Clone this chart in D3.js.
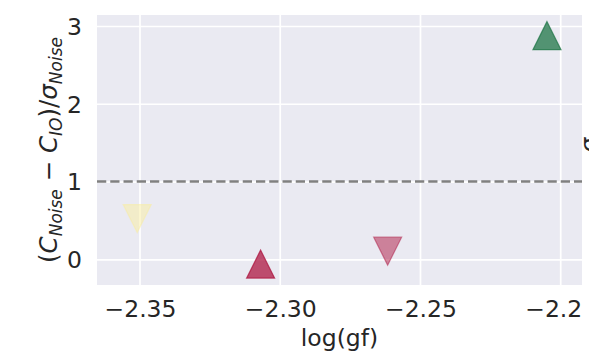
<!DOCTYPE html>
<html>
<head>
<meta charset="utf-8">
<script src="https://cdn.jsdelivr.net/npm/d3@7"></script>
<style>
  html, body { margin: 0; padding: 0; background: #ffffff; overflow: hidden; }
  svg { display: block; }
  text { font-family: "DejaVu Sans", sans-serif; fill: #262626; }
</style>
</head>
<body>
<div id="chart"></div>
<script>
// Significance of the noise-vs-IO difference against oscillator strength
const logGf     = [-2.351, -2.307, -2.2617, -2.2049];
const zScore    = [0.524, -0.062, 0.104, 2.876];
const direction = ["down", "up", "down", "up"];
const colors    = ["#faeea0", "#ad1741", "#ad1741", "#1f7547"];
const alphas    = [0.5, 0.75, 0.5, 0.75];

const xTicks = [-2.35, -2.30, -2.25, -2.20];
const yTicks = [0, 1, 2, 3];
const threshold = 1;

const W = 589, H = 354;
const margin = { left: 97, top: 15, right: 7, bottom: 69 };
const pw = W - margin.left - margin.right;
const ph = H - margin.top - margin.bottom;

const svg = d3.select("#chart").append("svg")
  .attr("width", W).attr("height", H);

// the panel is cropped at its right edge, so the x-axis labels stop there too
svg.append("defs").append("clipPath").attr("id", "xlabel-clip")
  .append("rect").attr("x", -margin.left).attr("y", 0)
  .attr("width", margin.left + pw).attr("height", margin.bottom);

const x = d3.scaleLinear().domain([-2.36533, -2.19241]).range([0, pw]);
const y = d3.scaleLinear().domain([-0.3305, 3.1414]).range([ph, 0]);

const g = svg.append("g").attr("transform", `translate(${margin.left},${margin.top})`);

g.append("rect").attr("width", pw).attr("height", ph).attr("fill", "#EAEAF2");

// grid
const xAxis = d3.axisBottom(x).tickValues(xTicks).tickFormat(d3.format(".2f"))
  .tickSize(-ph).tickPadding(15);
const yAxis = d3.axisLeft(y).tickValues(yTicks).tickFormat(d3.format("d"))
  .tickSize(-pw).tickPadding(15);

const gx = g.append("g").attr("transform", `translate(0,${ph})`).call(xAxis);
const gy = g.append("g").call(yAxis);
[gx, gy].forEach(a => {
  a.attr("font-family", null).attr("font-size", null);
  a.select(".domain").remove();
  a.selectAll(".tick line").attr("stroke", "#ffffff").attr("stroke-width", 1.7);
  a.selectAll(".tick text").attr("font-size", 23.5).attr("fill", "#262626");
});
gx.attr("clip-path", "url(#xlabel-clip)");
gx.selectAll(".tick line").attr("clip-path", null);
gx.selectAll(".tick text").attr("dy", "0.71em");
gy.selectAll(".tick text").attr("dy", "0.36em");

// x grid lines live above the clipped label band, so draw them separately
g.insert("g", () => gx.node()).selectAll("line").data(xTicks).enter().append("line")
  .attr("x1", d => x(d)).attr("x2", d => x(d))
  .attr("y1", 0).attr("y2", ph)
  .attr("stroke", "#ffffff").attr("stroke-width", 1.7);
gx.selectAll(".tick line").remove();

// reference level
g.append("line")
  .attr("x1", 0).attr("x2", pw)
  .attr("y1", y(threshold)).attr("y2", y(threshold))
  .attr("stroke", "#808080").attr("stroke-width", 2.5)
  .attr("stroke-dasharray", "9.25 4");

// triangle markers
const half = 14;
function tri(dir) {
  return dir === "up"
    ? `M0,${-half}L${-half},${half}L${half},${half}Z`
    : `M0,${half}L${-half},${-half}L${half},${-half}Z`;
}
g.selectAll("path.pt").data(logGf).enter().append("path")
  .attr("class", "pt")
  .attr("transform", (d, i) => `translate(${x(d)},${y(zScore[i])})`)
  .attr("d", (d, i) => tri(direction[i]))
  .attr("fill", (d, i) => colors[i])
  .attr("fill-opacity", (d, i) => alphas[i])
  .attr("stroke", (d, i) => colors[i])
  .attr("stroke-opacity", (d, i) => alphas[i])
  .attr("stroke-width", 1.2);

// axis labels
svg.append("text")
  .attr("x", margin.left + pw / 2).attr("y", 346)
  .attr("text-anchor", "middle").attr("font-size", 23.5)
  .text("log(gf)");

const yl = svg.append("text")
  .attr("transform", `translate(57,${margin.top + ph / 2}) rotate(-90)`)
  .attr("text-anchor", "middle").attr("font-size", 24.5);
const sub = 17, sh = 5;
yl.append("tspan").text("(");
yl.append("tspan").attr("font-style", "italic").text("C");
yl.append("tspan").attr("font-style", "italic").attr("font-size", sub).attr("dy", sh).text("Noise");
yl.append("tspan").attr("dy", -sh).text(" − ");
yl.append("tspan").attr("font-style", "italic").text("C");
yl.append("tspan").attr("font-style", "italic").attr("font-size", sub).attr("dy", sh).text("IO");
yl.append("tspan").attr("dy", -sh).text(")/");
yl.append("tspan").attr("font-style", "italic").text("σ");
yl.append("tspan").attr("font-style", "italic").attr("font-size", sub).attr("dy", sh).text("Noise");

// neighbouring panel's label, partly in view
svg.append("text")
  .attr("transform", `translate(597,145) rotate(-90)`)
  .attr("text-anchor", "middle").attr("font-size", 23.5)
  .attr("font-style", "italic")
  .text("σ");
</script>
</body>
</html>
